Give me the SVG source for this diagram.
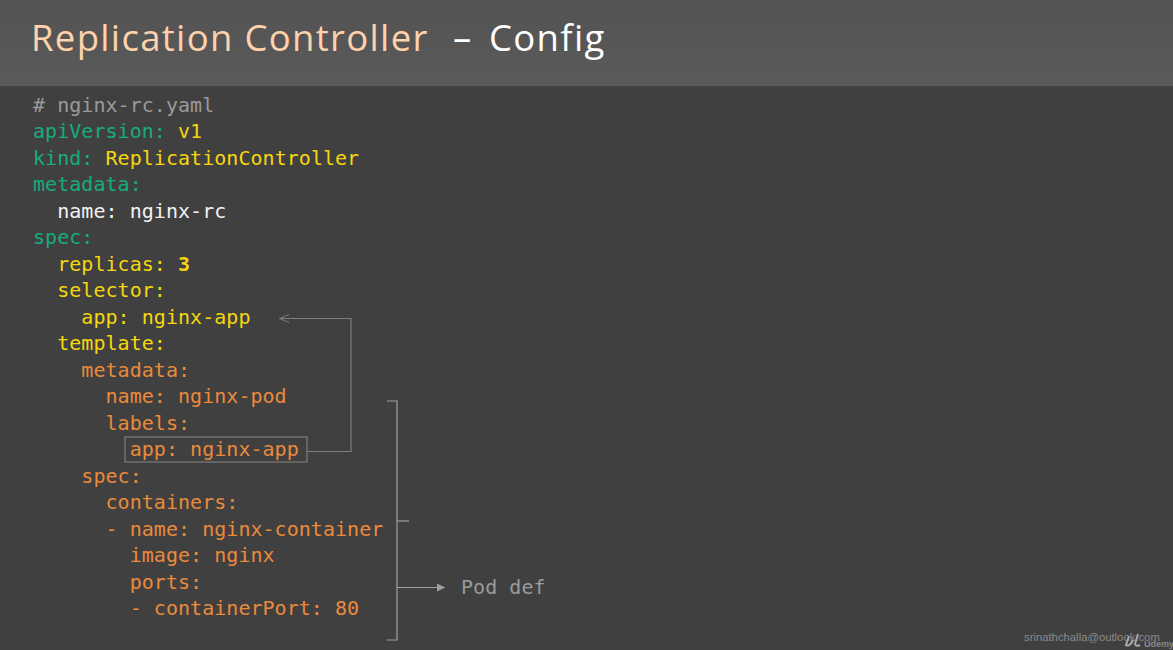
<svg xmlns="http://www.w3.org/2000/svg" width="1173" height="650" viewBox="0 0 1173 650">
<defs>
<linearGradient id="hdr" x1="0" y1="0" x2="0" y2="1"><stop offset="0" stop-color="#535353"/><stop offset="1" stop-color="#5a5a5a"/></linearGradient>
<marker id="open" markerWidth="12" markerHeight="10" refX="10" refY="5" orient="auto" markerUnits="userSpaceOnUse"><path d="M0 1 L9.500 5 L0 9" fill="none" stroke="#7d7d7d" stroke-width="1"/></marker>
<marker id="solid" markerWidth="9" markerHeight="10" refX="8" refY="5" orient="auto" markerUnits="userSpaceOnUse"><path d="M0 1 L8 5 L0 9 Z" fill="#a0a0a0"/></marker>
</defs>
<style>
text{white-space:pre}
.t{font-family:"Open Sans","Roboto","Liberation Sans",sans-serif;font-size:36.500px;font-weight:500;letter-spacing:1.320px}
.c{font-family:"DejaVu Sans Mono","Liberation Mono",monospace;font-size:20px;letter-spacing:.04px}
.g{fill:#17ac7c}.y{fill:#f5d60f}.o{fill:#ea8a3a}.w{fill:#f2f2f2}.m{fill:#9a9a9a}
.l{fill:none;stroke:#7d7d7d;stroke-width:1.2}
.b{fill:none;stroke:#a0a0a0;stroke-width:1.2}
</style>
<rect width="1173" height="650" fill="#404040"/>
<rect width="1173" height="86" fill="url(#hdr)"/>
<g id="title">
<text class="t" x="31" y="51" fill="#fdd2ac">Replication Controller</text>
<text class="t" x="453" y="51" fill="#ffffff">–</text>
<text class="t" x="489" y="51" fill="#ffffff">Config</text>
</g>
<g id="code">
<text class="c m" x="33" y="112"># nginx-rc.yaml</text>
<text class="c" x="33" y="138"><tspan class="g">apiVersion: </tspan><tspan class="y">v1</tspan></text>
<text class="c" x="33" y="165"><tspan class="g">kind: </tspan><tspan class="y">ReplicationController</tspan></text>
<text class="c g" x="33" y="191">metadata:</text>
<text class="c w" x="33" y="218">  name: nginx-rc</text>
<text class="c g" x="33" y="244">spec:</text>
<text class="c y" x="33" y="271">  replicas: <tspan font-weight="bold">3</tspan></text>
<text class="c y" x="33" y="297">  selector:</text>
<text class="c y" x="33" y="324">    app: nginx-app</text>
<text class="c y" x="33" y="350">  template:</text>
<text class="c o" x="33" y="377">    metadata:</text>
<text class="c o" x="33" y="403">      name: nginx-pod</text>
<text class="c o" x="33" y="430">      labels:</text>
<text class="c o" x="33" y="456">        app: nginx-app</text>
<text class="c o" x="33" y="483">    spec:</text>
<text class="c o" x="33" y="509">      containers:</text>
<text class="c o" x="33" y="536">      - name: nginx-container</text>
<text class="c o" x="33" y="562">        image: nginx</text>
<text class="c o" x="33" y="589">        ports:</text>
<text class="c o" x="33" y="615">        - containerPort: 80</text>
</g>
<g id="label-box"><rect x="125" y="437" width="182" height="25" class="l"/></g>
<g id="connectors">
<path class="l" d="M307 451.500H351V318.500H279" marker-end="url(#open)"/>
<path class="b" d="M387 401H397V640H387"/>
<path class="b" d="M397 521H409"/>
<path class="b" d="M397 587.500H445" marker-end="url(#solid)"/>
</g>
<g id="pod-def"><text class="c m" x="461" y="594">Pod def</text></g>
<g id="watermark">
<text x="1024" y="641" font-family="Liberation Sans,sans-serif" font-size="11.300" fill="#8a8a8a">srinathchalla@outlook.com</text>
<path d="M1129 636L1126 645Q1130 647 1133 640M1138 634L1135 644Q1136 647 1140 645" fill="none" stroke="#a8a8a8" stroke-width="2"/>
<text x="1144" y="647" font-family="Liberation Sans,sans-serif" font-size="9" font-weight="bold" fill="#8a8a8a">Udemy</text>
</g>
</svg>
